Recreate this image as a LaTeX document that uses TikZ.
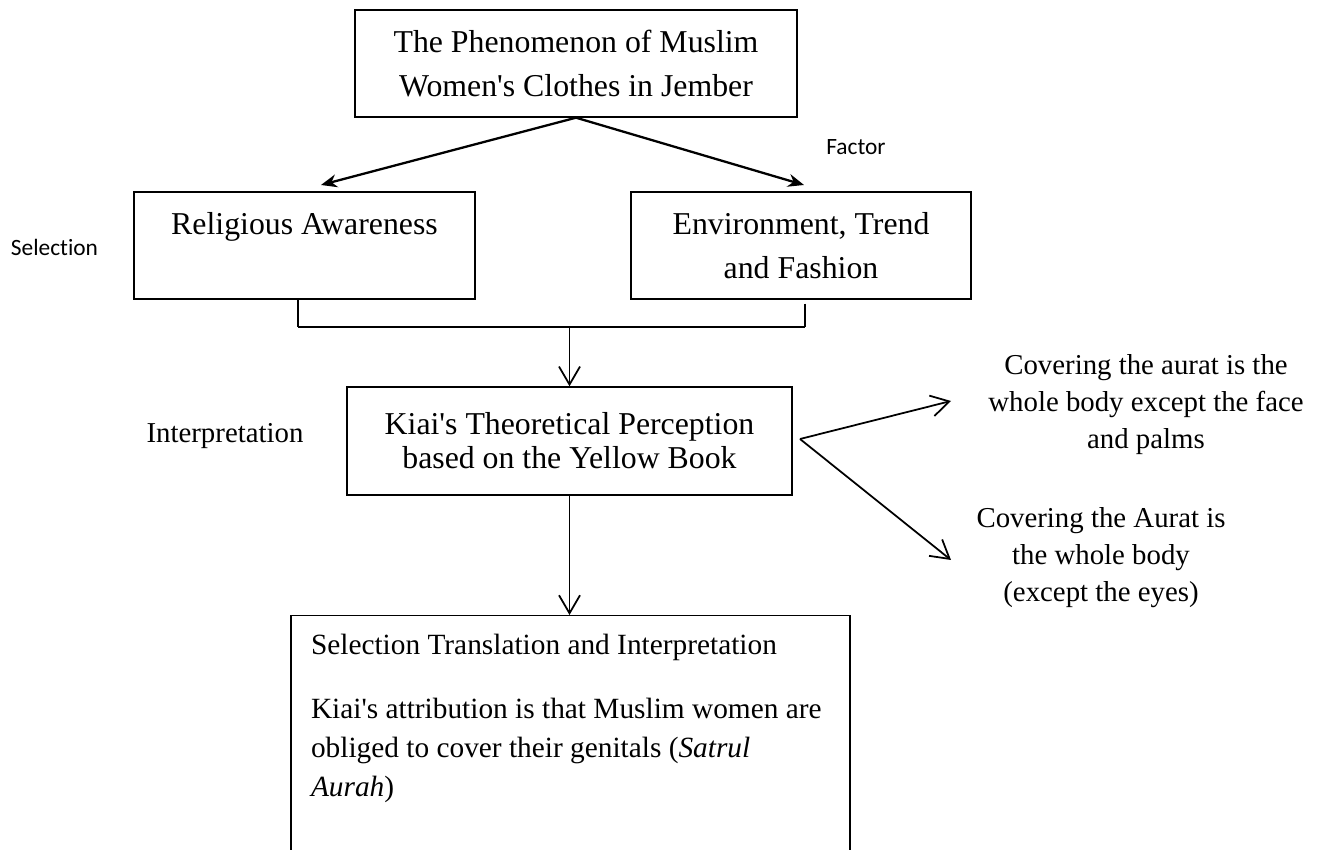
\documentclass[tikz,border=0pt]{standalone}
\usepackage{fontspec}
\setmainfont{Liberation Serif}
\newfontfamily\sidefont{Carlito}[Ligatures=NoCommon]
\usetikzlibrary{arrows.meta}

\begin{document}
\begin{tikzpicture}[
    box/.style={draw,line width=0.8pt,align=center,font=\fontsize{18.1}{24.9}\selectfont},
    stream/.style={-{Stealth[length=0.32cm,width=0.26cm]},line width=1.3pt},
    flow/.style={-{Straight Barb[length=0.36cm,width=0.42cm]},line width=1pt},
    side/.style={font=\sidefont\fontsize{13.3}{16}\selectfont},
    note/.style={align=center,font=\fontsize{16.4}{21}\selectfont}]
    %myborder
    \useasboundingbox (0,0) rectangle (26.38,17);
    \clip (0,0) rectangle (26.38,17);

    %phenomenon
    \node[box,minimum width=8.84cm,minimum height=2.14cm] (phen) at (11.52,15.73) {The Phenomenon of Muslim\\Women\textquotesingle s Clothes in Jember};
    \node[side] (factor) at (17.12,14.06) {Factor};
    \coordinate (lefttip) at (6.42,13.30);
    \coordinate (righttip) at (16.08,13.30);
    \draw[stream] (phen.south) -- (lefttip);
    \draw[stream] (phen.south) -- (righttip);

    %selection
    \node[side] (select) at (1.09,12.06) {Selection};
    \node[box,minimum width=6.82cm,minimum height=2.14cm] (rel) at (6.09,12.09) {Religious Awareness\\\mbox{}};
    \node[box,minimum width=6.80cm,minimum height=2.14cm] (env) at (16.02,12.09) {Environment, Trend\\and Fashion};
    \coordinate (jl) at (5.96,10.46);
    \coordinate (jr) at (16.10,10.46);
    \draw[line width=1pt] (rel.south -| jl) -- (jl);
    \draw[line width=1pt,shorten <=0.08cm] (env.south -| jr) -- (jr);
    \draw[line width=1.5pt] (jl) -- (jr);

    %interpretation
    \node[note] (interp) at (4.50,8.28) {Interpretation};
    \node[box,minimum width=8.90cm,minimum height=2.16cm,font=\fontsize{18.1}{19.3}\selectfont] (kiai) at (11.39,8.18) {Kiai\textquotesingle s Theoretical Perception\\based on the Yellow Book};
    \draw[flow] (kiai.north |- jl) -- (kiai.north);

    %aurat
    \node[note] (aurat1) at (22.92,8.91) {Covering the aurat is the\\whole body except the face\\and palms};
    \node[note] (aurat2) at (22.02,5.84) {Covering the Aurat is\\the whole body\\(except the eyes)};
    \coordinate (fork) at (16.00,8.22);
    \coordinate (uptip) at (19.02,8.98);
    \coordinate (downtip) at (19.02,5.80);
    \draw[flow] (fork) -- (uptip);
    \draw[flow] (fork) -- (downtip);

    %attribution
    \node[draw,line width=0.8pt,anchor=north,inner xsep=0.40cm,inner ysep=0.36cm] (attr) at (11.41,4.70) {\parbox[c][6cm][t]{10.38cm}{\raggedright\fontsize{16.7}{22.1}\selectfont
      Selection Translation and Interpretation\\[14.7pt]
      Kiai\textquotesingle s attribution is that Muslim women are\\
      obliged to cover their genitals (\textit{Satrul}\\
      \textit{Aurah})}};
    \draw[flow] (kiai.south) -- (kiai.south |- attr.north);

  \end{tikzpicture}
\end{document}
